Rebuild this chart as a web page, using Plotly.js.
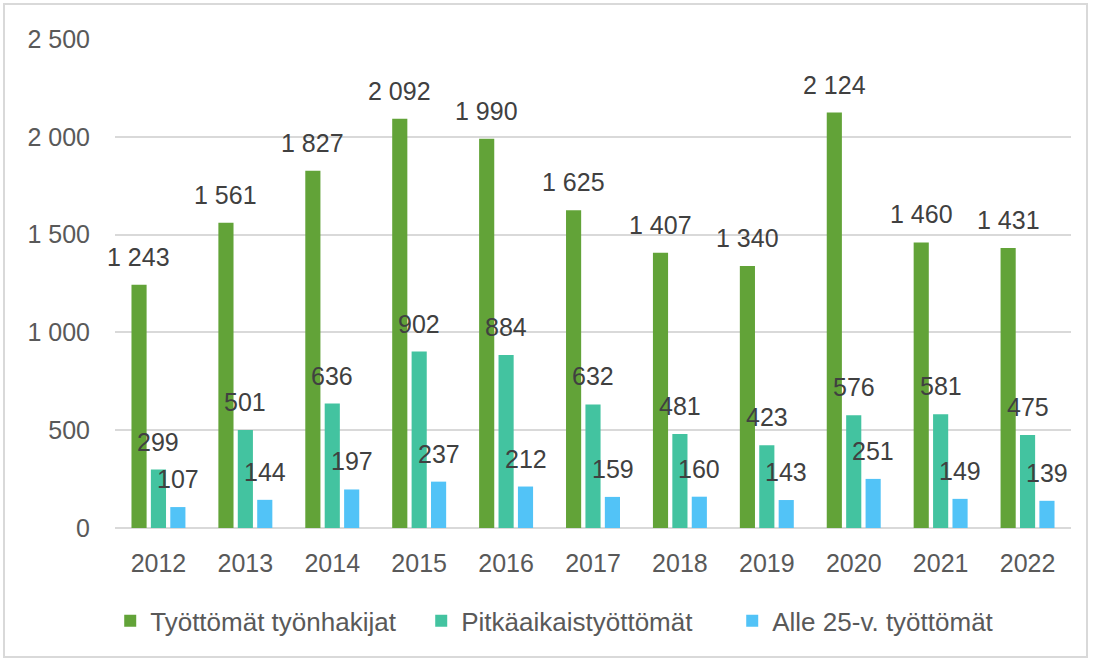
<!DOCTYPE html>
<html>
<head>
<meta charset="utf-8">
<script src="https://cdn.plot.ly/plotly-3.0.1.min.js"></script>
<style>
html,body{margin:0;padding:0;background:#fff;}
#frame{position:absolute;left:3px;top:3px;width:1085px;height:655px;border:2px solid #d9d9d9;box-sizing:border-box;}
#chart{width:100%;height:100%;}
</style>
</head>
<body>
<div id="frame"><div id="chart"></div></div>
<script>
const years = ["2012","2013","2014","2015","2016","2017","2018","2019","2020","2021","2022"];
const tyottomat = [1243,1561,1827,2092,1990,1625,1407,1340,2124,1460,1431];
const pitkaaikais = [299,501,636,902,884,632,481,423,576,581,475];
const alle25 = [107,144,197,237,212,159,160,143,251,149,139];
const seriesNames = ["Työttömät työnhakijat","Pitkäaikaistyöttömät","Alle 25-v. työttömät"];
const colors = ["#62a338","#43c3a0","#52c3f7"];

function fmt(v){ return String(v).replace(/\B(?=(\d{3})+(?!\d))/g, " "); }

const font = "Liberation Sans, Arial, sans-serif";
const allSeries = [tyottomat, pitkaaikais, alle25];
const shifts = [-19.5, 0, 19.5];

const traces = allSeries.map((vals, i) => ({
  type: "bar",
  name: seriesNames[i],
  x: years,
  y: vals,
  marker: {color: colors[i]},
  hoverinfo: "x+y+name"
}));

const annotations = [];
allSeries.forEach((vals, i) => {
  vals.forEach((v, j) => {
    annotations.push({
      x: j, y: v, xref: "x", yref: "y",
      text: fmt(v), showarrow: false,
      xanchor: "center", yanchor: "bottom",
      xshift: shifts[i], yshift: 12,
      font: {family: font, size: 25, color: "#404040"}
    });
  });
});

const layout = {
  width: 1081, height: 651,
  margin: {l: 110, r: 15, t: 34, b: 128},
  paper_bgcolor: "#fff", plot_bgcolor: "#fff",
  separators: ", ",
  barmode: "group",
  bargap: 0.33,
  bargroupgap: 0.22,
  font: {family: font, color: "#595959"},
  xaxis: {
    type: "category",
    range: [-0.5, years.length - 0.5],
    showgrid: false, zeroline: false, showline: false,
    ticks: "", ticklabelstandoff: 18,
    tickfont: {family: font, size: 25, color: "#595959"}
  },
  yaxis: {
    range: [0, 2500], dtick: 500, tickformat: ",d",
    showgrid: true, gridcolor: "#d9d9d9", gridwidth: 2,
    zeroline: true, zerolinecolor: "#d9d9d9", zerolinewidth: 2,
    showline: false, ticks: "", ticklabelstandoff: 24,
    tickfont: {family: font, size: 25, color: "#595959"}
  },
  legend: {
    orientation: "h", x: -0.005, xanchor: "left", y: -0.19, yanchor: "middle",
    font: {family: font, size: 26, color: "#595959"},
    itemwidth: 30, tracegroupgap: 0,
    entrywidth: 266, entrywidthmode: "pixels"
  },
  annotations: annotations,
  showlegend: true
};

Plotly.newPlot("chart", traces, layout, {displayModeBar: false, staticPlot: true});
</script>
</body>
</html>
